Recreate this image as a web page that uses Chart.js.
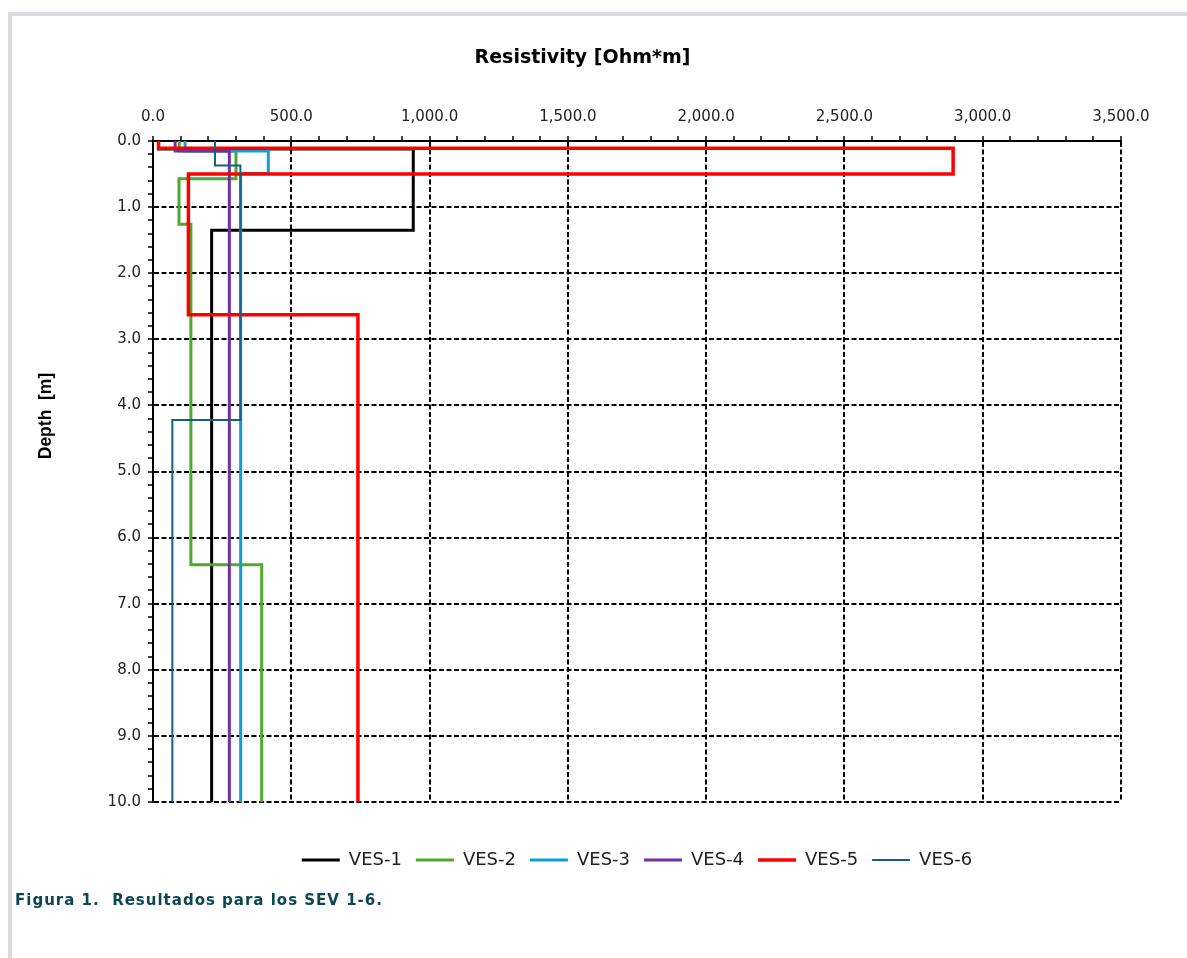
<!DOCTYPE html>
<html>
<head>
<meta charset="utf-8">
<script src="https://cdn.jsdelivr.net/npm/chart.js@4.4.1/dist/chart.umd.min.js"></script>
<style>
html, body { margin:0; padding:0; background:#fff; width:1187px; height:958px; overflow:hidden; }
#frame { position:absolute; left:8px; top:12px; width:1400px; height:1200px; border:4px solid #d7dbde; box-sizing:border-box; }
#wrap { position:absolute; left:0; top:0; width:1187px; height:958px; }
#caption { position:absolute; left:15px; top:891px; font:bold 15px "DejaVu Sans"; letter-spacing:1px; color:#0c4653; white-space:pre; z-index:2; }
</style>
</head>
<body>
<div id="frame"></div>
<div id="wrap"><canvas id="c" width="1187" height="958"></canvas></div>
<div id="caption">Figura 1.  Resultados para los SEV 1-6.</div>
<script>
// ---- data ----
const seriesNames = ['VES-1', 'VES-2', 'VES-3', 'VES-4', 'VES-5', 'VES-6'];
const seriesColors = ['#000000', '#4ea72e', '#0f9ed5', '#7030a0', '#ff0000', '#156082'];
const seriesWidths = [3, 3, 3, 3, 3.5, 2];

// layer resistivities [Ohm*m] and layer bottom depths [m]
const ves1Rho = [20, 941, 212];
const ves1Depth = [0.12, 1.35];
const ves2Rho = [95, 300, 94, 137, 393];
const ves2Depth = [0.15, 0.57, 1.26, 6.41];
const ves3Rho = [116, 417, 317];
const ves3Depth = [0.15, 0.49];
const ves4Rho = [80, 276];
const ves4Depth = [0.15];
const ves5Rho = [20, 2893, 128, 741];
const ves5Depth = [0.11, 0.50, 2.63];
const ves6Rho = [224, 316, 70];
const ves6Depth = [0.37, 4.22];

const xMajorTicks = [0, 500, 1000, 1500, 2000, 2500, 3000, 3500];
const yMajorTicks = [0, 1, 2, 3, 4, 5, 6, 7, 8, 9, 10];
const maxDepth = 10;

const allRho = [ves1Rho, ves2Rho, ves3Rho, ves4Rho, ves5Rho, ves6Rho];
const allDepth = [ves1Depth, ves2Depth, ves3Depth, ves4Depth, ves5Depth, ves6Depth];

function stepPoints(rho, bounds) {
  const pts = [];
  let top = 0;
  rho.forEach((r, i) => {
    const bottom = i < bounds.length ? bounds[i] : maxDepth;
    pts.push({x: r, y: top}, {x: r, y: bottom});
    top = bottom;
  });
  return pts;
}

const isMajor = (v, list) => list.some(t => Math.abs(t - v) < 1e-6);
const fmtX = v => v.toLocaleString('en-US', {minimumFractionDigits: 1, maximumFractionDigits: 1});

const datasets = seriesNames.map((name, i) => ({
  label: name,
  data: stepPoints(allRho[i], allDepth[i]),
  borderColor: seriesColors[i],
  backgroundColor: seriesColors[i],
  borderWidth: seriesWidths[i],
  showLine: true,
  pointRadius: 0,
  pointHoverRadius: 0,
  tension: 0,
  borderJoinStyle: 'miter',
  borderCapStyle: 'butt',
  order: seriesNames.length - i
}));

const depthTitle = {
  id: 'depthTitle',
  afterDraw(chart) {
    const ctx = chart.ctx;
    ctx.save();
    ctx.translate(46, 416);
    ctx.rotate(-Math.PI / 2);
    ctx.font = 'bold 17.5px "Liberation Sans"';
    ctx.fillStyle = '#000';
    ctx.textAlign = 'center';
    ctx.textBaseline = 'middle';
    ctx.fillText('Depth  [m]', 0, 0);
    ctx.restore();
  }
};

const dash = [5, 2.5];

new Chart(document.getElementById('c'), {
  type: 'scatter',
  data: { datasets },
  plugins: [depthTitle],
  options: {
    responsive: false,
    animation: false,
    devicePixelRatio: 1,
    events: [],
    layout: { padding: { left: 44, right: 66, top: 0, bottom: 79 } },
    plugins: {
      tooltip: { enabled: false },
      title: {
        display: true,
        text: 'Resistivity [Ohm*m]',
        color: '#000',
        font: { family: 'DejaVu Sans', size: 19, weight: 'bold', lineHeight: '24px' },
        padding: { top: 46, bottom: 10 }
      },
      legend: {
        position: 'bottom',
        fullSize: false,
        title: { display: true, text: '', padding: { top: 35, bottom: 0 }, font: { size: 1, lineHeight: 0 } },
        labels: {
          usePointStyle: true,
          pointStyle: 'line',
          pointStyleWidth: 38,
          padding: 14,
          color: '#222',
          font: { family: 'DejaVu Sans', size: 18 },
          sort: (a, b) => a.datasetIndex - b.datasetIndex
        }
      }
    },
    scales: {
      x: {
        type: 'linear',
        position: 'top',
        min: 0,
        max: 3500,
        afterFit: s => { s.height = 61; },
        ticks: {
          stepSize: 100,
          autoSkip: false,
          maxRotation: 0,
          minRotation: 0,
          padding: 10,
          color: '#222',
          font: { family: 'DejaVu Sans', size: 15 },
          callback: v => isMajor(v, xMajorTicks) ? fmtX(v) : ''
        },
        grid: {
          color: c => (c.tick && isMajor(c.tick.value, xMajorTicks)) ? '#000' : 'rgba(0,0,0,0)',
          lineWidth: 2,
          tickColor: '#000',
          tickLength: 5,
          tickWidth: 1.5
        },
        border: { display: true, color: '#000', width: 2, dash: dash }
      },
      y: {
        type: 'linear',
        reverse: true,
        min: 0,
        max: maxDepth,
        afterFit: s => { s.width = 109; },
        ticks: {
          stepSize: 0.2,
          autoSkip: false,
          padding: 7,
          color: '#222',
          font: { family: 'DejaVu Sans', size: 15 },
          callback: v => isMajor(v, yMajorTicks) ? Number(v).toFixed(1) : ''
        },
        grid: {
          color: c => (c.tick && isMajor(c.tick.value, yMajorTicks)) ? '#000' : 'rgba(0,0,0,0)',
          lineWidth: 2,
          tickColor: '#000',
          tickLength: 5,
          tickWidth: 1.5
        },
        border: { display: true, color: '#000', width: 2, dash: dash }
      }
    }
  }
});
</script>
</body>
</html>
